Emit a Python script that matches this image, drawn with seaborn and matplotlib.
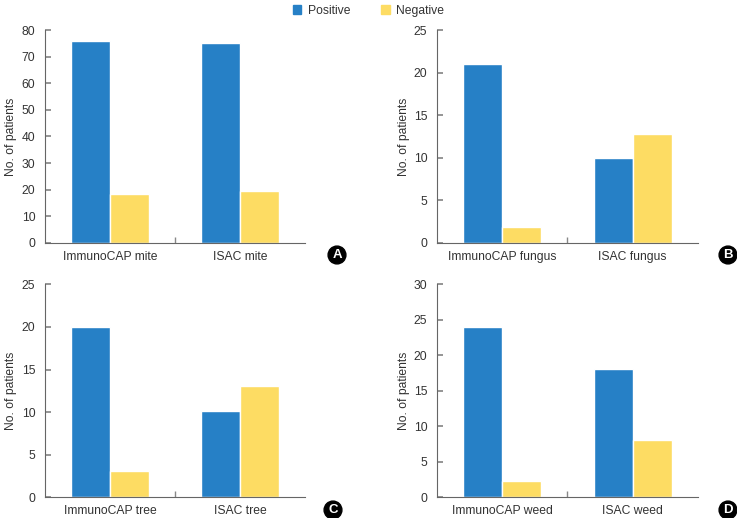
import pandas as pd
import matplotlib.pyplot as plt
import seaborn as sns
from matplotlib.patches import Patch

# values
allergens = ["mite", "fungus", "tree", "weed"]
panel_letters = ["A", "B", "C", "D"]
y_max = [80, 25, 25, 30]
immunocap_pos = [76, 21, 20, 24]
immunocap_neg = [18.3, 1.9, 3.1, 2.3]
isac_pos = [75, 10, 10.1, 18.1]
isac_neg = [19.6, 12.8, 13.1, 8.1]

blue = "#2680c6"
yellow = "#fddc63"
text_col = "#333333"
fs = 8.7

sns.set_theme(style="ticks")
plt.rcParams["font.family"] = ["Liberation Sans", "DejaVu Sans"]

fig = plt.figure(figsize=(7.37, 5.18), dpi=100)
positions = [
    [0.061, 0.531, 0.353, 0.411],
    [0.593, 0.531, 0.354, 0.411],
    [0.061, 0.040, 0.353, 0.411],
    [0.593, 0.040, 0.354, 0.411],
]
letter_xy = [(337, 255), (728, 255), (333, 510), (728, 510)]

for i, name in enumerate(allergens):
    cats = ["ImmunoCAP " + name, "ISAC " + name]
    df = pd.DataFrame({
        "test": cats + cats,
        "result": ["Positive", "Positive", "Negative", "Negative"],
        "count": [immunocap_pos[i], isac_pos[i], immunocap_neg[i], isac_neg[i]],
    })
    ax = fig.add_axes(positions[i])
    sns.barplot(data=df, x="test", y="count", hue="result", order=cats,
                hue_order=["Positive", "Negative"],
                palette={"Positive": blue, "Negative": yellow},
                width=0.6, saturation=1, ax=ax, legend=False)
    ax.set_xlim(-0.5, 1.5)
    ax.set_ylim(0, y_max[i])
    step = 10 if y_max[i] == 80 else 5
    ax.set_yticks(range(0, y_max[i] + 1, step))
    ax.set_xlabel("")
    ax.set_ylabel("No. of patients", fontsize=fs, color=text_col, labelpad=3)
    ax.set_xticks([0, 1])
    ax.set_xticklabels(cats)
    ax.set_xticks([0.5], minor=True)
    ax.tick_params(axis="x", which="major", length=0, pad=5.5, labelsize=fs, labelcolor=text_col)
    ax.tick_params(axis="x", which="minor", direction="in", length=4, color="#888888")
    ax.tick_params(axis="y", direction="in", length=4, color="#888888", labelsize=fs,
                   labelcolor=text_col, pad=7)
    sns.despine(ax=ax)
    for s in ["left", "bottom"]:
        ax.spines[s].set_color("#666666")
        ax.spines[s].set_linewidth(0.8)
    lx, ly = letter_xy[i]
    fig.text(lx / 737, 1 - ly / 518, panel_letters[i], ha="center", va="center",
             color="white", fontsize=9.5, fontweight="bold",
             bbox=dict(boxstyle="circle,pad=0.22", fc="black", ec="black"))

handles = [Patch(color=blue, label="Positive"), Patch(color=yellow, label="Negative")]
fig.legend(handles=handles, loc="upper center", bbox_to_anchor=(0.5, 1.012), ncol=2,
           frameon=False, fontsize=fs, handlelength=0.7, handleheight=0.7,
           columnspacing=2.6, handletextpad=0.5, labelcolor=text_col)

fig.savefig("out.png", dpi=100)
